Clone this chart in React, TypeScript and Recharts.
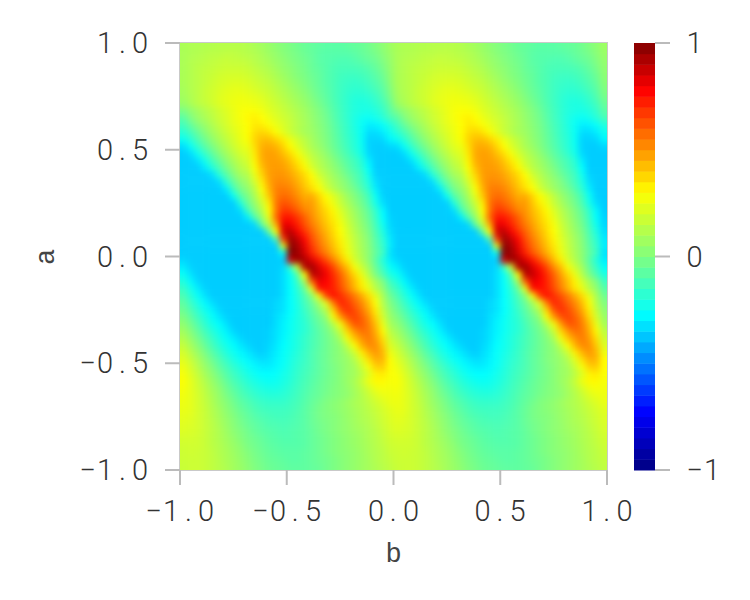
import React from 'react';
import { ScatterChart, Scatter, XAxis, YAxis, ReferenceArea } from 'recharts';

const bTicks = [-1, -0.5, 0, 0.5, 1];
const aTicks = [-1, -0.5, 0, 0.5, 1];
const barTicks = [-1, 0, 1];

// one period of the pattern in b (it repeats twice), top row first, values in hundredths
const fieldRows = [
  [10,11,11,12,12,13,13,13,13,12,10,8,6,3,1,-1,-3,-5,-6,-7,-8,-8,-8,-7,-6,-5,-3,0,3,7],
  [10,11,12,13,14,14,15,15,14,13,12,10,7,5,2,0,-2,-4,-6,-8,-9,-9,-9,-9,-8,-6,-4,-2,2,6],
  [10,12,13,14,15,16,17,16,16,15,13,11,9,6,4,1,-1,-3,-5,-8,-9,-10,-11,-11,-10,-8,-6,-4,0,5],
  [10,12,14,15,16,17,18,18,18,17,15,13,11,8,5,3,0,-2,-5,-7,-9,-11,-12,-12,-12,-11,-9,-6,-2,4],
  [10,12,14,16,17,19,20,20,20,19,17,15,13,10,7,4,1,-1,-4,-6,-9,-11,-13,-14,-14,-13,-11,-8,-4,3],
  [10,12,14,16,18,20,21,22,22,21,19,17,15,12,9,6,3,0,-3,-6,-9,-11,-14,-15,-16,-15,-13,-10,-6,2],
  [9,12,14,17,19,21,23,24,24,23,21,19,17,14,11,8,5,2,-2,-5,-8,-11,-14,-16,-17,-17,-15,-12,-8,0],
  [8,11,14,17,19,22,24,25,26,25,24,22,19,16,13,10,7,4,0,-4,-7,-11,-14,-17,-19,-19,-18,-15,-10,-2],
  [6,10,14,16,19,22,24,26,27,27,26,24,21,18,15,12,9,6,2,-2,-6,-10,-14,-17,-20,-21,-20,-17,-13,-5],
  [-1,4,8,12,15,19,22,25,28,29,29,27,23,20,17,14,11,8,4,0,-4,-9,-13,-17,-20,-21,-22,-20,-16,-8],
  [-8,0,6,10,14,18,21,25,28,31,33,30,26,22,19,16,12,9,5,1,-3,-8,-13,-17,-21,-24,-25,-23,-19,-12],
  [-13,-6,1,6,11,16,20,24,27,30,34,33,29,25,21,17,13,10,6,2,-2,-7,-12,-16,-21,-25,-30,-29,-26,-20],
  [-18,-12,-5,2,8,13,18,22,26,30,36,38,35,29,23,17,13,9,7,3,-1,-6,-11,-16,-20,-25,-33,-33,-30,-24],
  [-24,-18,-10,-3,4,10,15,20,25,29,38,42,42,38,33,25,19,14,9,4,0,-5,-10,-15,-19,-25,-35,-35,-34,-28],
  [-33,-25,-16,-8,-1,6,12,18,23,26,36,45,46,44,38,30,22,16,10,6,1,-4,-9,-14,-19,-24,-35,-36,-36,-34],
  [-36,-33,-24,-15,-7,1,8,14,20,23,34,46,48,47,42,36,28,20,14,9,4,-2,-7,-12,-17,-23,-34,-36,-36,-36],
  [-36,-36,-32,-23,-13,-5,3,10,16,20,32,45,48,48,46,41,34,26,17,12,7,2,-4,-9,-13,-19,-30,-36,-36,-36],
  [-36,-36,-36,-30,-20,-11,-2,6,13,17,29,42,48,49,48,44,38,31,21,14,9,4,-1,-7,-12,-17,-27,-36,-36,-36],
  [-36,-36,-36,-36,-33,-19,-9,1,9,12,25,38,48,50,50,47,42,37,30,19,13,7,2,-4,-9,-14,-24,-35,-36,-36],
  [-36,-36,-36,-36,-36,-33,-17,-6,3,8,20,34,47,52,52,50,45,39,33,25,16,10,5,0,-7,-13,-21,-33,-36,-36],
  [-36,-36,-36,-36,-36,-36,-30,-13,-2,4,14,29,44,54,55,53,48,42,36,30,20,13,7,2,-3,-10,-18,-30,-36,-36],
  [-36,-36,-36,-36,-36,-36,-36,-25,-9,-1,10,24,40,54,58,56,51,45,46,38,30,23,15,7,1,-5,-13,-25,-35,-36],
  [-36,-36,-36,-36,-36,-36,-36,-36,-20,-5,5,18,33,56,63,60,55,49,49,41,33,26,17,10,3,-3,-11,-23,-33,-36],
  [-36,-36,-36,-36,-36,-36,-36,-36,-33,-13,0,12,30,55,68,66,60,53,50,43,37,31,22,14,7,0,-7,-17,-28,-36],
  [-36,-36,-36,-36,-36,-36,-36,-36,-36,-30,-10,5,25,58,74,74,68,60,52,45,39,33,25,16,9,2,-5,-15,-27,-35],
  [-36,-36,-36,-36,-36,-36,-36,-36,-36,-36,-34,-6,15,45,82,80,72,63,55,48,41,35,28,19,11,4,-3,-13,-24,-34],
  [-36,-36,-36,-36,-36,-36,-36,-36,-36,-36,-36,-36,-6,30,85,90,79,69,60,51,44,37,30,21,13,6,-1,-11,-21,-33],
  [-36,-36,-36,-36,-36,-36,-36,-36,-36,-36,-36,-36,-36,-8,68,95,88,77,64,55,47,39,32,23,15,8,1,-9,-18,-31],
  [-36,-36,-36,-36,-36,-36,-36,-36,-36,-36,-36,-36,-36,-36,25,98,93,82,68,58,50,42,34,25,16,9,2,-8,-16,-30],
  [-36,-36,-36,-36,-36,-36,-36,-36,-36,-36,-36,-36,-36,-36,-25,100,95,85,72,62,54,45,37,26,18,10,3,-6,-14,-32],
  [-34,-36,-36,-36,-36,-36,-36,-36,-36,-36,-36,-36,-36,-36,-36,85,95,92,84,74,64,54,43,33,20,12,3,-8,-20,-30],
  [-30,-35,-36,-36,-36,-36,-36,-36,-36,-36,-36,-36,-36,-36,-34,-15,18,90,95,84,75,65,52,42,28,18,8,-5,-15,-26],
  [-25,-32,-36,-36,-36,-36,-36,-36,-36,-36,-36,-36,-36,-36,-33,-26,-8,30,90,88,80,70,60,48,37,25,12,-1,-11,-21],
  [-20,-28,-34,-36,-36,-36,-36,-36,-36,-36,-36,-36,-36,-36,-33,-26,-15,10,60,82,78,72,62,52,42,32,20,9,0,-14],
  [-15,-23,-30,-35,-36,-36,-36,-36,-36,-36,-36,-36,-36,-36,-33,-27,-18,-5,25,75,76,72,64,54,44,34,25,13,4,-9],
  [-11,-19,-26,-32,-36,-36,-36,-36,-36,-36,-36,-36,-36,-36,-33,-27,-20,-11,2,28,65,76,70,63,55,46,36,24,10,-4],
  [-7,-15,-22,-28,-33,-36,-36,-36,-36,-36,-36,-36,-36,-34,-32,-27,-21,-13,-5,8,24,55,72,68,60,52,42,29,12,0],
  [-4,-11,-18,-24,-29,-34,-36,-36,-36,-36,-36,-36,-36,-34,-32,-27,-22,-15,-8,1,13,38,62,70,64,56,46,33,16,3],
  [0,-7,-14,-20,-26,-31,-35,-36,-36,-36,-36,-36,-36,-33,-30,-26,-21,-17,-10,-4,4,28,48,62,66,60,51,37,20,6],
  [4,-3,-10,-17,-23,-27,-32,-36,-36,-36,-36,-36,-36,-33,-29,-25,-21,-18,-12,-6,-1,12,27,48,62,61,54,42,25,9],
  [8,1,-6,-13,-19,-24,-29,-34,-36,-36,-36,-36,-35,-32,-29,-25,-21,-18,-13,-8,-3,4,17,37,50,57,55,45,31,14],
  [12,5,-2,-9,-15,-21,-26,-30,-34,-36,-36,-36,-35,-32,-28,-24,-20,-16,-12,-8,-4,1,9,27,41,50,55,48,36,18],
  [16,9,2,-5,-12,-18,-23,-27,-31,-34,-36,-36,-34,-31,-27,-24,-20,-16,-12,-8,-4,0,4,15,29,44,52,51,40,22],
  [20,13,6,-1,-8,-14,-20,-24,-28,-31,-34,-36,-33,-30,-26,-23,-19,-15,-11,-7,-4,0,3,9,18,33,44,50,44,26],
  [23,17,10,3,-4,-10,-16,-21,-25,-28,-31,-33,-32,-29,-26,-22,-18,-15,-11,-7,-4,0,3,6,12,23,36,45,44,30],
  [26,20,13,6,0,-7,-12,-17,-21,-25,-28,-30,-30,-28,-25,-21,-17,-14,-11,-7,-4,-1,2,6,9,18,28,39,40,30],
  [28,22,16,9,3,-3,-9,-14,-18,-22,-25,-27,-27,-26,-23,-20,-16,-13,-10,-7,-4,-1,2,6,8,14,22,32,34,29],
  [29,24,18,12,6,0,-6,-11,-15,-19,-22,-24,-25,-24,-22,-19,-15,-12,-9,-6,-3,-1,2,6,10,17,26,31,31,28],
  [28,24,19,14,8,3,-3,-8,-12,-16,-19,-21,-22,-22,-20,-17,-14,-11,-8,-5,-3,0,2,5,9,14,20,26,28,27],
  [27,24,20,15,10,5,-1,-5,-10,-13,-16,-18,-19,-19,-18,-16,-13,-10,-7,-5,-2,0,2,4,8,12,17,22,25,26],
  [26,24,20,16,11,6,2,-3,-7,-10,-13,-15,-16,-16,-16,-14,-12,-9,-6,-3,0,2,4,7,10,12,15,19,22,25],
  [25,24,20,17,12,8,3,-1,-5,-8,-11,-13,-14,-14,-14,-13,-11,-8,-5,-2,0,2,4,6,9,11,14,17,20,23],
  [24,23,20,17,13,9,5,1,-3,-6,-9,-11,-12,-13,-13,-12,-10,-8,-5,-2,0,1,3,6,8,11,13,16,19,22],
  [23,22,20,17,14,10,6,2,-2,-5,-7,-9,-11,-11,-12,-11,-10,-8,-5,-3,-1,1,3,5,8,10,12,15,18,21],
  [22,21,20,17,14,11,7,3,0,-3,-6,-8,-9,-10,-11,-10,-9,-8,-6,-3,-1,1,3,5,7,9,11,14,17,20],
  [20,20,19,17,14,11,8,5,1,-2,-4,-6,-8,-9,-10,-10,-9,-8,-6,-4,-2,0,2,4,6,8,11,13,16,19],
  [19,19,19,17,14,12,9,6,3,-1,-3,-5,-7,-8,-9,-9,-9,-8,-6,-4,-2,0,2,4,6,8,10,13,15,18],
  [18,19,18,17,15,12,10,7,4,1,-2,-4,-6,-7,-8,-8,-8,-7,-6,-4,-2,0,2,3,5,7,10,12,14,17],
  [18,18,18,17,15,13,10,8,5,2,-1,-3,-5,-6,-7,-8,-8,-7,-6,-4,-3,-1,1,3,5,7,9,12,14,16],
  [17,18,18,17,15,13,11,8,6,3,0,-2,-4,-5,-6,-7,-7,-7,-6,-5,-3,-1,1,3,5,7,9,11,13,15],
];

const barLevels = [
  -0.975,-0.925,-0.875,-0.825,-0.775,-0.725,-0.675,-0.625,-0.575,-0.525,
  -0.475,-0.425,-0.375,-0.325,-0.275,-0.225,-0.175,-0.125,-0.075,-0.025,
  0.025,0.075,0.125,0.175,0.225,0.275,0.325,0.375,0.425,0.475,
  0.525,0.575,0.625,0.675,0.725,0.775,0.825,0.875,0.925,0.975,
];

const PLOT = 427;
const COLS = fieldRows[0].length * 2;
const ROWS = fieldRows.length;
const NUM_FONT = 'Roboto, sans-serif';
const NUM_SIZE = 29;
const PITCH = 17.5;
const LABEL_FONT = '"Liberation Mono", monospace';
const GREY = '#bbbbbb';
const INK = '#333333';

// colour ramp
const stops: [number, number, number, number][] = [
  [-1, 0, 0, 128],
  [-0.73, 0, 0, 255],
  [-0.27, 0, 255, 255],
  [0, 128, 255, 128],
  [0.3, 255, 255, 0],
  [0.78, 255, 0, 0],
  [1, 128, 0, 0],
];

const jet = (v: number) => {
  const x = Math.max(-1, Math.min(1, v));
  let i = 0;
  while (i < stops.length - 2 && x > stops[i + 1][0]) i++;
  const [v0, r0, g0, b0] = stops[i];
  const [v1, r1, g1, b1] = stops[i + 1];
  const f = (x - v0) / (v1 - v0);
  return `rgb(${Math.round(r0 + (r1 - r0) * f)},${Math.round(g0 + (g1 - g0) * f)},${Math.round(b0 + (b1 - b0) * f)})`;
};

const cells = fieldRows.flatMap((row, r) =>
  [...row, ...row].map((v, c) => ({
    b: -1 + (2 * (c + 0.5)) / COLS,
    a: 1 - (2 * (r + 0.5)) / ROWS,
    v: v / 100,
    c,
    r,
  })),
);

const barCells = barLevels.map((v) => ({ x: 0, y: v, v }));

const FieldCell = (props: any) => {
  const { cx, cy, payload } = props;
  const w = PLOT / COLS;
  const h = PLOT / ROWS;
  // outer cells run past the frame so the blur does not fade at the edge
  const left = payload.c === 0 ? 14 : 0;
  const right = payload.c === COLS - 1 ? 14 : 0;
  const top = payload.r === 0 ? 14 : 0;
  const bottom = payload.r === ROWS - 1 ? 14 : 0;
  return (
    <rect
      x={cx - w / 2 - left}
      y={cy - h / 2 - top}
      width={w + left + right + 0.5}
      height={h + top + bottom + 0.5}
      fill={jet(payload.v)}
    />
  );
};

const BarCell = (props: any) => {
  const { cx, cy, payload } = props;
  const h = PLOT / barLevels.length;
  return <rect x={cx - 10.5} y={cy - h / 2} width={21} height={h + 0.5} fill={jet(payload.v)} />;
};

const fmt = (v: number) => v.toFixed(1).replace('-', '\u2212');
const fmtBar = (v: number) => String(v).replace('-', '\u2212');

// fixed pitch tick text, the reference font is monospaced
const glyphX = (label: string, start: number) =>
  label
    .split('')
    .map((ch, i) => {
      const adv = ch === '.' ? 0.263 : ch === '\u2212' ? 0.57 : 0.5615;
      return (start + i * PITCH + (PITCH - adv * NUM_SIZE) / 2).toFixed(1);
    })
    .join(' ');

const NumText = ({ label, start, y }: { label: string; start: number; y: number }) => (
  <text x={glyphX(label, start)} y={y} fontFamily={NUM_FONT} fontSize={NUM_SIZE} fontWeight={300} fill={INK}>
    {label}
  </text>
);

const XTick = (p: any) => {
  const label = fmt(p.payload.value);
  return <NumText label={label} start={p.x - (label.length * PITCH) / 2} y={p.y + 23} />;
};

const YTick = (p: any) => {
  const label = fmt(p.payload.value);
  return <NumText label={label} start={p.x + 2 - label.length * PITCH} y={p.y + 10} />;
};

const BarTick = (p: any) => <NumText label={fmtBar(p.payload.value)} start={p.x} y={p.y + 10} />;

const lineStyle = { stroke: GREY, strokeWidth: 2 };

export default function App() {
  return (
    <div style={{ position: 'absolute', left: 0, top: 0, width: 750, height: 600, background: '#fff' }}>
      <style>{`.field-layer .recharts-scatter { filter: blur(3px); clip-path: url(#plotClip); }`}</style>
      <div className="field-layer" style={{ position: 'absolute', left: 0, top: 0 }}>
        <ScatterChart width={750} height={600} margin={{ left: 80, right: 143, top: 43, bottom: 70 }}>
          <defs>
            <clipPath id="plotClip" clipPathUnits="userSpaceOnUse">
              <rect x={180} y={43} width={PLOT} height={PLOT} />
            </clipPath>
          </defs>
          <XAxis
            type="number"
            dataKey="b"
            domain={[-1, 1]}
            ticks={bTicks}
            tickSize={15}
            tickMargin={13}
            interval={0}
            height={60}
            axisLine={false}
            tickLine={lineStyle}
            tick={XTick}
            label={{
              value: 'b',
              position: 'insideBottom',
              offset: -32,
              style: { fontFamily: LABEL_FONT, fontSize: 27, fill: '#444444' },
            }}
          />
          <YAxis
            type="number"
            dataKey="a"
            domain={[-1, 1]}
            ticks={aTicks}
            tickSize={15}
            tickMargin={18}
            interval={0}
            width={100}
            axisLine={false}
            tickLine={lineStyle}
            tick={YTick}
          />
          <Scatter data={cells} shape={FieldCell} isAnimationActive={false} />
          <ReferenceArea x1={-1} x2={1} y1={-1} y2={1} fill="none" stroke={GREY} strokeWidth={2} strokeOpacity={0.8} />
        </ScatterChart>
      </div>
      <div
        style={{
          position: 'absolute',
          left: 47,
          top: 257,
          transform: 'translate(-50%, -50%) rotate(-90deg)',
          fontFamily: LABEL_FONT,
          fontSize: 27,
          color: '#444444',
        }}
      >
        a
      </div>
      <div style={{ position: 'absolute', left: 634, top: 0 }}>
        <ScatterChart width={116} height={600} margin={{ left: 0, right: 36, top: 43, bottom: 130 }}>
          <XAxis type="number" dataKey="x" domain={[-1, 1]} hide />
          <YAxis
            type="number"
            dataKey="y"
            orientation="right"
            domain={[-1, 1]}
            ticks={barTicks}
            tickSize={15}
            tickMargin={16}
            interval={0}
            width={59}
            axisLine={false}
            tickLine={lineStyle}
            tick={BarTick}
          />
          <Scatter data={barCells} shape={BarCell} isAnimationActive={false} />
        </ScatterChart>
      </div>
    </div>
  );
}
